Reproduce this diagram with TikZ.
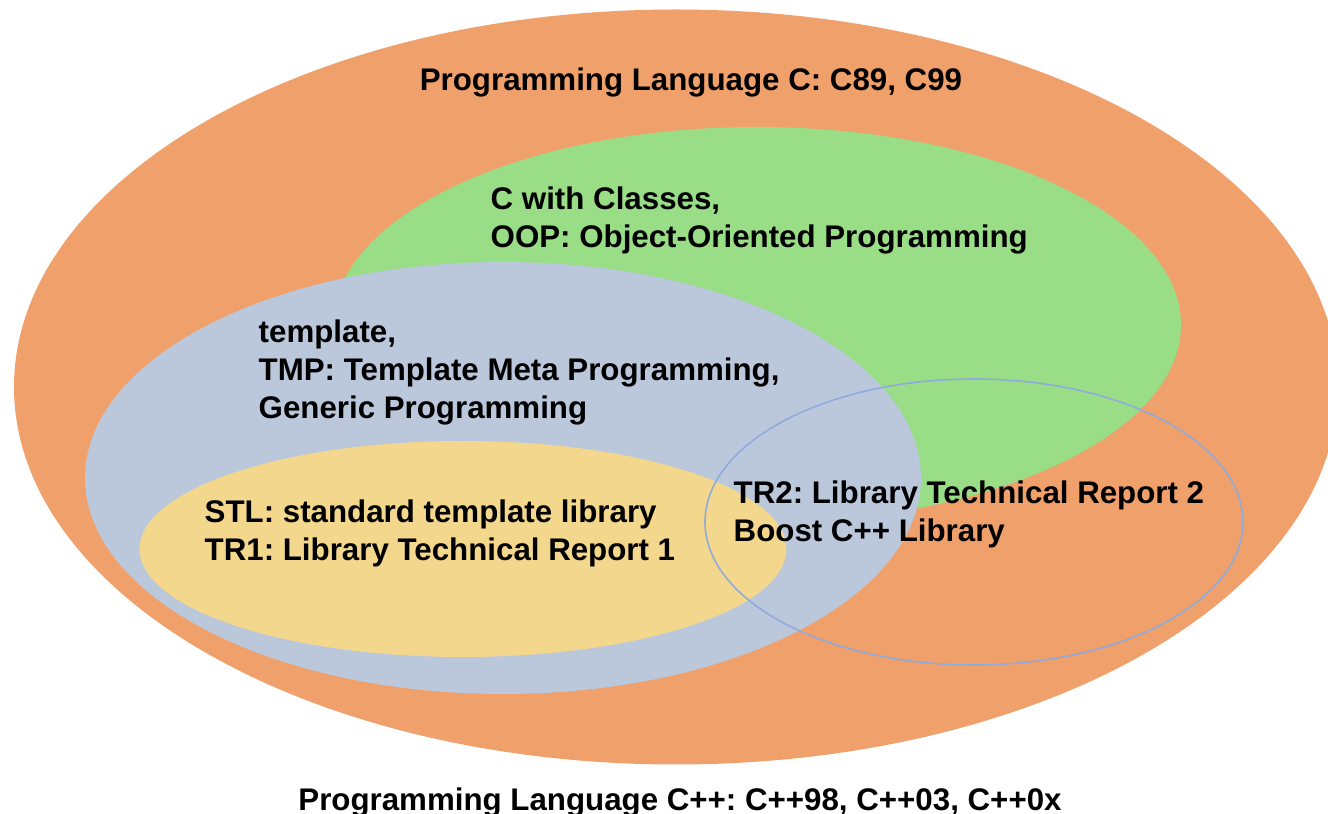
\documentclass[tikz,border=0pt]{standalone}
\usepackage{fontspec}
\setmainfont{Liberation Sans}
\usetikzlibrary{shapes, positioning}
\definecolor{naranja}{RGB}{240,160,106}
\definecolor{verde}{RGB}{153,221,135}
\definecolor{azul}{RGB}{187,200,220}
\definecolor{amarillo}{RGB}{242,215,141}
\definecolor{borde}{RGB}{143,170,220}
\frenchspacing
\tikzstyle{vennset} = [ellipse, inner sep=0pt, outer sep=0pt]
\tikzstyle{settitle} = [inner sep=0pt, align=left, anchor=base west, font=\bfseries\fontsize{8.9}{10.9}\selectfont]

\begin{document}
\begin{tikzpicture}[x=0.1mm, y=-0.1mm]
	\useasboundingbox (0,0) rectangle (1328,814);
	\node [vennset, fill=naranja, minimum width=132.4mm, minimum height=75.5mm] (cpp) at (676,387) {};
	\node [vennset, fill=verde, minimum width=84.8mm, minimum height=39.6mm] (clases) at (757,325) {};
	\node [vennset, fill=azul, minimum width=83.6mm, minimum height=43.2mm] (plantilla) at (503,478) {};
	\node [vennset, fill=amarillo, minimum width=64.7mm, minimum height=21.6mm] (stl) at (463,549) {};
	\node [vennset, draw=borde, line width=0.45pt, minimum width=53.8mm, minimum height=28.6mm] (boost) at (974,522) {};
	\node [settitle, anchor=base] (tc) at (691,91) {Programming Language C: C89, C99};
	\node [settitle] (tclases) at (490,248) {C with Classes,\\OOP: Object-Oriented Programming};
	\node [settitle] (tplantilla) at (258,419) {template,\\TMP: Template Meta Programming,\\Generic Programming};
	\node [settitle] (tstl) at (204,561) {STL: standard template library\\TR1: Library Technical Report 1};
	\node [settitle] (tboost) at (733,542) {TR2: Library Technical Report 2\\Boost C++ Library};
	\node [settitle, anchor=base] (tcpp) at (680,811) {Programming Language C++: C++98, C++03, C++0x};
\end{tikzpicture}
\end{document}
